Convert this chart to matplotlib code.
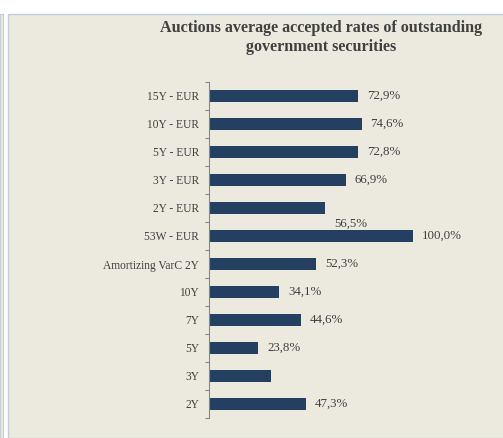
import matplotlib.pyplot as plt
from matplotlib.patches import Rectangle

categories = ['15Y - EUR', '10Y - EUR', '5Y - EUR', '3Y - EUR', '2Y - EUR', '53W - EUR',
              'Amortizing VarC 2Y', '10Y', '7Y', '5Y', '3Y', '2Y']
values = [72.9, 74.6, 72.8, 66.9, 56.5, 100.0, 52.3, 34.1, 44.6, 23.8, 30.0, 47.3]
labels = ['72,9%', '74,6%', '72,8%', '66,9%', '', '100,0%', '52,3%', '34,1%', '44,6%', '23,8%', '', '47,3%']

plt.rcParams['font.family'] = ['Liberation Serif', 'DejaVu Serif']
txt = '#404040'
bg = '#ECEADF'

fig = plt.figure(figsize=(5.03, 4.38), dpi=100)
fig.patch.set_facecolor('white')
fig.patches.append(Rectangle((8 / 503, 0), 1, 1 - 14 / 438, transform=fig.transFigure,
                             facecolor=bg, edgecolor='#C5CDD6', linewidth=1, zorder=-2))
fig.patches.append(Rectangle((0, 0), 3 / 503, 1 - 14 / 438, transform=fig.transFigure,
                             facecolor=bg, edgecolor='#C5CDD6', linewidth=0.8, zorder=-2))

ax = fig.add_axes([209 / 503, 20 / 438, 284 / 503, 336 / 438])
ax.set_facecolor('none')
y = list(range(len(categories)))
ax.barh(y, values, height=0.4, color='#253F61', left=0.6)
ax.set_ylim(len(categories) - 0.5, -0.5)
ax.set_xlim(0, 140)

for i, (v, lab) in enumerate(zip(values, labels)):
    if lab:
        ax.text(v + 5, i, lab, va='center', ha='left', fontsize=9.3, color=txt)
ax.text(61.5, 4.55, '56,5%', va='center', ha='left', fontsize=9.3, color=txt)

ax.set_yticks(y)
ax.set_yticklabels(categories, fontsize=8.3, color=txt)
ax.tick_params(axis='y', which='major', length=0, pad=7)
ax.set_yticks([i - 0.5 for i in range(len(categories) + 1)], minor=True)
ax.tick_params(axis='y', which='minor', length=3, color='#888888', width=0.8)
ax.set_xticks([])
for s in ['top', 'right', 'bottom']:
    ax.spines[s].set_visible(False)
ax.spines['left'].set_color('#888888')

fig.text(321 / 503, 1 - 37.5 / 438, 'Auctions average accepted rates of outstanding\ngovernment securities',
         ha='center', va='center', fontsize=11.6, fontweight='bold', color=txt, linespacing=1.3)

fig.savefig('out.png', dpi=100)
